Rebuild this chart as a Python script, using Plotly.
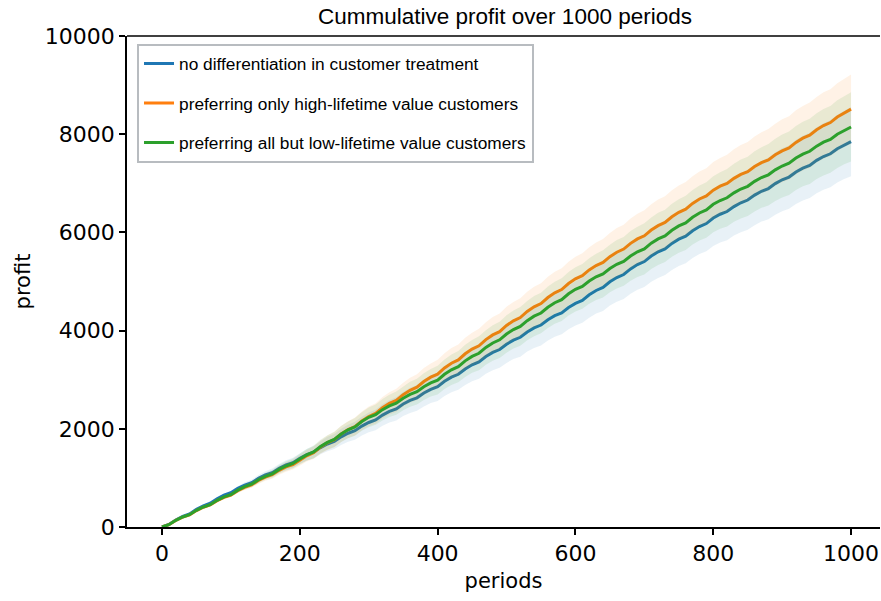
import plotly.graph_objects as go

periods = list(range(0, 1001, 10))

no_diff = [0, 51, 144, 216, 267, 360, 432, 483, 576, 648, 699,
           787, 855, 902, 991, 1059, 1106, 1195, 1263, 1310, 1399,
           1472, 1523, 1618, 1691, 1742, 1837, 1910, 1961, 2056, 2129,
           2181, 2279, 2354, 2406, 2504, 2579, 2631, 2729, 2804, 2856,
           2967, 3051, 3110, 3219, 3303, 3362, 3471, 3555, 3614, 3723,
           3806, 3864, 3972, 4055, 4113, 4221, 4304, 4362, 4470, 4553,
           4614, 4729, 4817, 4878, 4993, 5081, 5142, 5257, 5345, 5406,
           5518, 5604, 5664, 5776, 5862, 5922, 6034, 6120, 6180, 6292,
           6370, 6425, 6526, 6604, 6659, 6760, 6838, 6893, 6994, 7072,
           7127, 7230, 7309, 7364, 7467, 7546, 7601, 7704, 7783, 7850]

high_only = [0, 47, 134, 201, 248, 335, 402, 449, 536, 603, 650,
             740, 809, 857, 947, 1016, 1064, 1154, 1223, 1271, 1361,
             1450, 1512, 1628, 1717, 1779, 1895, 1984, 2046, 2162, 2251,
             2313, 2429, 2518, 2580, 2696, 2785, 2847, 2963, 3052, 3114,
             3240, 3336, 3403, 3528, 3624, 3691, 3816, 3912, 3979, 4104,
             4199, 4265, 4389, 4484, 4550, 4674, 4769, 4835, 4959, 5054,
             5118, 5235, 5325, 5389, 5506, 5596, 5660, 5777, 5867, 5931,
             6048, 6138, 6202, 6319, 6409, 6473, 6590, 6680, 6744, 6861,
             6941, 6997, 7101, 7181, 7237, 7341, 7421, 7477, 7581, 7661,
             7721, 7833, 7919, 7979, 8091, 8177, 8237, 8349, 8435, 8510]

all_but_low = [0, 47, 136, 204, 251, 340, 408, 455, 544, 612, 659,
               751, 821, 871, 962, 1032, 1082, 1173, 1243, 1293, 1384,
               1469, 1529, 1639, 1724, 1784, 1894, 1979, 2039, 2149, 2234,
               2289, 2390, 2468, 2523, 2624, 2702, 2757, 2858, 2936, 2991,
               3111, 3202, 3266, 3384, 3475, 3539, 3657, 3748, 3812, 3930,
               4021, 4085, 4203, 4294, 4358, 4476, 4567, 4631, 4749, 4840,
               4900, 5010, 5095, 5155, 5265, 5350, 5410, 5520, 5605, 5665,
               5780, 5868, 5929, 6044, 6132, 6193, 6308, 6396, 6457, 6572,
               6650, 6705, 6806, 6884, 6939, 7040, 7118, 7173, 7274, 7352,
               7409, 7514, 7595, 7652, 7757, 7838, 7895, 8000, 8081, 8147]

band_halfwidth = [0, 5, 9, 12, 17, 20, 25, 27, 33, 36, 41,
                  46, 55, 60, 69, 74, 83, 88, 97, 102, 111,
                  118, 129, 136, 147, 154, 165, 172, 183, 190, 201,
                  208, 219, 226, 237, 244, 255, 262, 273, 280, 291,
                  298, 309, 316, 327, 334, 345, 352, 363, 370, 381,
                  386, 395, 400, 409, 414, 423, 428, 437, 442, 451,
                  456, 465, 470, 479, 484, 493, 498, 507, 512, 520,
                  524, 531, 534, 541, 544, 551, 554, 561, 564, 571,
                  576, 585, 590, 599, 604, 613, 618, 627, 632, 641,
                  645, 653, 657, 665, 669, 677, 681, 689, 693, 705]

series_names = ["no differentiation in customer treatment",
                "preferring only high-lifetime value customers",
                "preferring all but low-lifetime value customers"]
series_values = [no_diff, high_only, all_but_low]
line_colors = ["#1f77b4", "#ff7f0e", "#2ca02c"]
band_colors = ["rgba(31,119,180,0.1)", "rgba(255,127,14,0.1)", "rgba(44,160,44,0.1)"]

x_ticks = [0, 200, 400, 600, 800, 1000]
x_labels = ["0", "200", "400", "600", "800", "1000"]
y_ticks = [0, 2000, 4000, 6000, 8000, 10000]
y_labels = ["0", "2000", "4000", "6000", "8000", "10000"]

fig = go.Figure()
for i, (name, vals) in enumerate(zip(series_names, series_values)):
    lower = [v - h for v, h in zip(vals, band_halfwidth)]
    upper = [v + h for v, h in zip(vals, band_halfwidth)]
    fig.add_trace(go.Scatter(x=periods, y=lower, mode="lines", line=dict(width=0),
                             showlegend=False, hoverinfo="skip"))
    fig.add_trace(go.Scatter(x=periods, y=upper, mode="lines", line=dict(width=0),
                             fill="tonexty", fillcolor=band_colors[i],
                             showlegend=False, hoverinfo="skip"))
    fig.add_trace(go.Scatter(x=periods, y=vals, mode="lines", name=name,
                             legendgroup=f"g{i}",
                             line=dict(color=line_colors[i], width=3)))

tick_font = dict(family="DejaVu Sans", size=22, color="black")

fig.update_layout(
    width=881, height=601,
    margin=dict(l=127, r=1, t=36, b=74),
    paper_bgcolor="white", plot_bgcolor="white",
    title=dict(text="Cummulative profit over 1000 periods",
               font=dict(family="Liberation Sans", size=22.5, color="black"),
               x=0.502, xref="paper", xanchor="center",
               y=1 - 16 / 601, yref="container", yanchor="middle"),
    xaxis=dict(range=[-50.8, 1042], tickvals=x_ticks, ticktext=x_labels,
               ticks="outside", ticklen=6,
               tickwidth=1.5, tickcolor="black", showline=True, linecolor="black",
               linewidth=1.5, showgrid=False, zeroline=False, tickfont=tick_font,
               title=dict(text="periods", font=dict(family="DejaVu Sans", size=21, color="black"),
                          standoff=8)),
    yaxis=dict(range=[0, 10000], tickvals=y_ticks, ticktext=y_labels,
               ticks="outside", ticklen=6,
               tickwidth=1.5, tickcolor="black", showline=True, linecolor="black",
               linewidth=1.5, showgrid=False, zeroline=False, tickfont=tick_font,
               title=dict(text="profit", font=dict(family="DejaVu Sans", size=21, color="black"),
                          standoff=8)),
    legend=dict(x=0.0133, y=0.984, xanchor="left", yanchor="top",
                bgcolor="rgba(255,255,255,0.85)", bordercolor="#b8bcc0", borderwidth=2,
                font=dict(family="Liberation Sans", size=17.3, color="black"),
                tracegroupgap=14),
    shapes=[dict(type="line", xref="paper", yref="paper", x0=0, x1=1, y0=1, y1=1,
                 line=dict(color="black", width=1.5))],
    showlegend=True,
)

fig.write_html("out.html")
